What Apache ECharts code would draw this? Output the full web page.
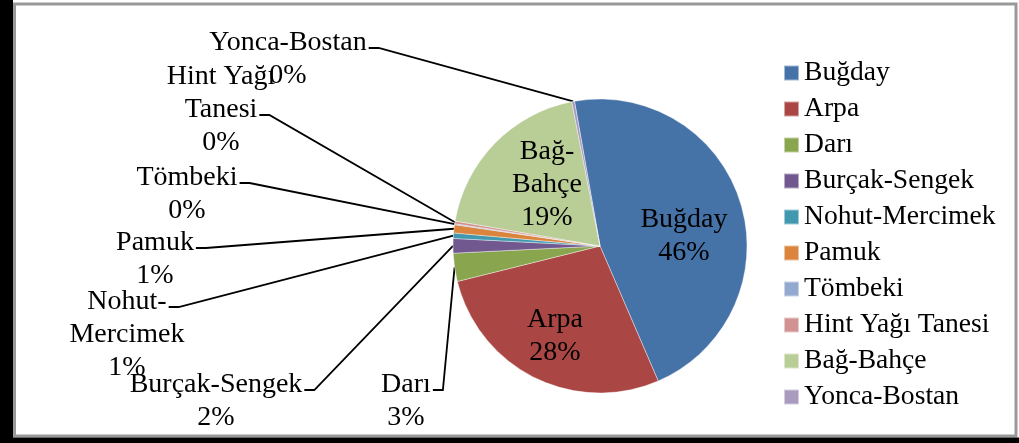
<!DOCTYPE html>
<html>
<head>
<meta charset="utf-8">
<script src="https://cdn.jsdelivr.net/npm/echarts@6/dist/echarts.min.js"></script>
<style>
  html, body { margin: 0; padding: 0; background: #fff; }
  #main { width: 1019px; height: 443px; }
</style>
</head>
<body>
<div id="main"></div>
<script>
// ürün adları ve paylari (%)
var categories = ['Buğday', 'Arpa', 'Darı', 'Burçak-Sengek', 'Nohut-Mercimek', 'Pamuk', 'Tömbeki', 'Hint Yağı Tanesi', 'Bağ-Bahçe', 'Yonca-Bostan'];
var shares = [46.3, 27.6, 3.1, 1.6, 0.6, 0.9, 0.1, 0.3, 19.2, 0.3];
// grafik uzerinde etiketlerin satir kirilmasi
var labelNames = ['Buğday', 'Arpa', 'Darı', 'Burçak-Sengek', 'Nohut-\nMercimek', 'Pamuk', 'Tömbeki', 'Hint Yağı\nTanesi', 'Bağ-\nBahçe', 'Yonca-Bostan'];
var insideNames = ['Buğday', 'Arpa', 'Bağ-Bahçe'];

var colors = ['#4572A7', '#AA4643', '#89A54E', '#71588F', '#4198AF', '#DB843D', '#93A9CF', '#D19392', '#B9CD96', '#A99BBD'];

// etiket kutusu: orta x, ust y, cizginin baglandigi satir
var labelPos = [
  [684, 203.5, 0], [555, 303.5, 0], [406, 368.5, 0], [216, 368.5, 0], [127, 285.5, 0],
  [155, 226.5, 0], [187, 161.5, 0], [221, 60.5, 1], [547, 135.5, 0], [288, 26.5, 0]
];

var FONT = '"Liberation Serif", "DejaVu Serif", serif';
var LABEL_SIZE = 28;
var LINE_H = 33;

var measureCtx = document.createElement('canvas').getContext('2d');
function textWidth(s) {
  measureCtx.font = LABEL_SIZE + 'px ' + FONT;
  return measureCtx.measureText(s).width;
}

var total = shares.reduce(function (a, b) { return a + b; }, 0);

var pieData = categories.map(function (name, i) {
  var item = { name: name, value: shares[i], itemStyle: { color: colors[i] } };
  if (insideNames.indexOf(name) >= 0) {
    item.label = { position: 'inside' };
    item.labelLine = { show: false };
  }
  return item;
});

var chart = echarts.init(document.getElementById('main'), null, { renderer: 'canvas' });

var option = {
  backgroundColor: '#fff',
  animation: false,
  color: colors,
  graphic: [
    { type: 'rect', shape: { x: 14.5, y: 4, width: 1001.5, height: 432 }, style: { fill: null, stroke: '#999', lineWidth: 3 } },
    { type: 'rect', shape: { x: 0, y: 0, width: 13, height: 443 }, style: { fill: '#000' } },
    { type: 'rect', shape: { x: 0, y: 437.5, width: 1019, height: 6 }, style: { fill: '#000' } }
  ],
  legend: {
    orient: 'vertical',
    left: 783,
    top: 59,
    padding: 0,
    itemWidth: 15,
    itemHeight: 15,
    itemGap: 8,
    icon: 'rect',
    selectedMode: false,
    data: categories,
    textStyle: {
      fontFamily: FONT,
      fontSize: 27.6,
      lineHeight: 27.3,
      color: '#000'
    }
  },
  series: [{
    type: 'pie',
    center: [600, 246],
    radius: 147,
    startAngle: 100,
    clockwise: true,
    avoidLabelOverlap: false,
    data: pieData,
    itemStyle: {
      borderColor: 'rgba(255,255,255,0.5)',
      borderWidth: 0.8
    },
    label: {
      show: true,
      position: 'outside',
      fontFamily: FONT,
      fontSize: LABEL_SIZE,
      lineHeight: LINE_H,
      color: '#000',
      align: 'center',
      formatter: function (p) {
        return labelNames[p.dataIndex] + '\n' + Math.round(p.value / total * 100) + '%';
      }
    },
    labelLine: {
      show: true,
      length: 10,
      length2: 10,
      lineStyle: { color: '#000', width: 1.8 }
    },
    labelLayout: function (params) {
      var i = params.dataIndex;
      var p = labelPos[i];
      var out = { x: p[0], y: p[1], align: 'center', verticalAlign: 'top' };
      if (insideNames.indexOf(categories[i]) < 0 && params.labelLinePoints) {
        var row = labelNames[i].split('\n')[p[2]];
        var ex = p[0] + textWidth(row) / 2 + 2;
        var ey = p[1] + LINE_H * p[2] + LINE_H / 2 + 5;
        out.labelLinePoints = [params.labelLinePoints[0], [ex + 10, ey], [ex, ey]];
      }
      return out;
    }
  }]
};

chart.setOption(option);
</script>
</body>
</html>
